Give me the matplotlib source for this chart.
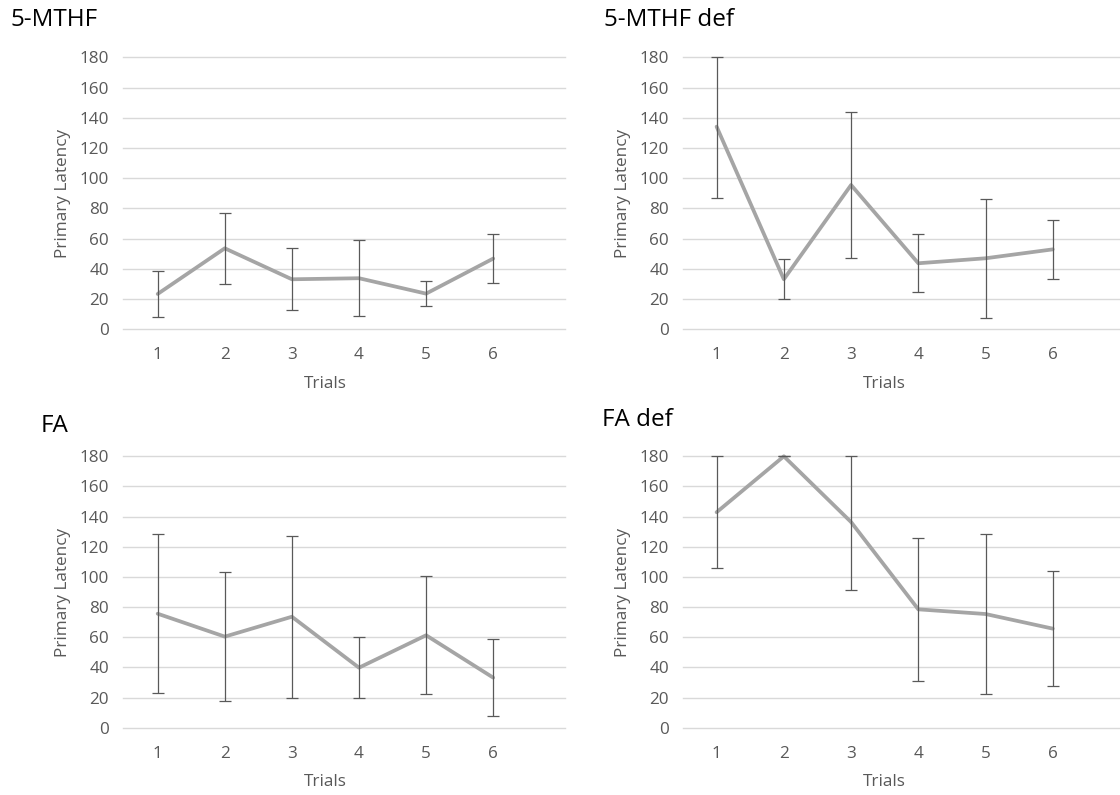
import matplotlib
matplotlib.use("Agg")
import matplotlib.pyplot as plt
import numpy as np

plt.rcParams['font.family'] = ['Open Sans', 'DejaVu Sans']

trials = [1, 2, 3, 4, 5, 6]
yticks = [0, 20, 40, 60, 80, 100, 120, 140, 160, 180]

titles = ["5-MTHF", "5-MTHF def", "FA", "FA def"]

mthf_mean = [23.4, 53.6, 33.1, 33.8, 23.6, 46.8]
mthf_sd = [15.2, 23.5, 20.4, 25.0, 8.3, 16.1]

mthf_def_mean = [134.1, 33.1, 95.5, 43.7, 47.0, 52.9]
mthf_def_sd = [47.0, 13.1, 48.5, 19.3, 39.3, 19.4]

fa_mean = [75.6, 60.4, 73.6, 39.8, 61.3, 33.2]
fa_sd = [52.8, 43.0, 53.6, 20.2, 39.0, 25.6]

fa_def_mean = [142.9, 180.0, 136.4, 78.5, 75.4, 65.7]
fa_def_sd = [37.0, 0.0, 45.1, 47.6, 52.8, 38.2]

W, H = 1120, 795
fig = plt.figure(figsize=(W / 100, H / 100), dpi=100)

# (left px, right px, top px (y=180), bottom px (y=0), xlim, title x, title baseline y)
layout = [
    (123, 565, 57.3, 329.3, (0.483, 7.07), 10, 26),
    (683, 1120, 57.3, 329.3, (0.5, 7.0), 604, 26),
    (123, 565, 456.3, 727.7, (0.483, 7.07), 41, 432),
    (683, 1120, 456.3, 727.7, (0.5, 7.0), 602, 426),
]
data = [
    (mthf_mean, mthf_sd),
    (mthf_def_mean, mthf_def_sd),
    (fa_mean, fa_sd),
    (fa_def_mean, fa_def_sd),
]

grid_c = '#D9D9D9'
text_c = '#595959'
line_c = '#A5A5A5'
err_c = '#595959'

for (l, r, t, b, xl, tx, ty), (m, sd), title in zip(layout, data, titles):
    ax = fig.add_axes([l / W, 1 - b / H, (r - l) / W, (b - t) / H])
    m = np.array(m)
    sd = np.array(sd)
    upper = np.minimum(m + sd, 180) - m
    lower = np.minimum(sd, m)
    ax.plot(trials, m, color=line_c, lw=2.7, solid_capstyle='round', zorder=3, clip_on=False)
    ax.errorbar(trials, m, yerr=[lower, upper], fmt='none', ecolor=err_c, elinewidth=0.9,
                capsize=4.5, capthick=0.9, zorder=4, clip_on=False)
    ax.set_xlim(*xl)
    ax.set_ylim(0, 180)
    ax.set_yticks(yticks)
    ax.set_xticks(trials)
    ax.grid(axis='y', color=grid_c, lw=1.0)
    for gl in ax.get_ygridlines():
        gl.set_clip_on(False)
    ax.set_axisbelow(True)
    for s in ax.spines.values():
        s.set_visible(False)
    ax.tick_params(length=0, labelsize=12.3, colors=text_c, pad=10)
    ax.tick_params(axis='x', pad=13)
    ax.set_xlabel("Trials", fontsize=12.3, color=text_c)
    ax.set_ylabel("Primary Latency", fontsize=12.3, color=text_c)
    ax.xaxis.set_label_coords((3.5 - xl[0]) / (xl[1] - xl[0]), -0.17)
    ax.yaxis.set_label_coords(-52 / (r - l), 0.5)
    fig.text(tx / W, 1 - ty / H, title, fontsize=17.5, color='black', va='baseline', ha='left')

fig.savefig("out.png", dpi=100, facecolor='white')
